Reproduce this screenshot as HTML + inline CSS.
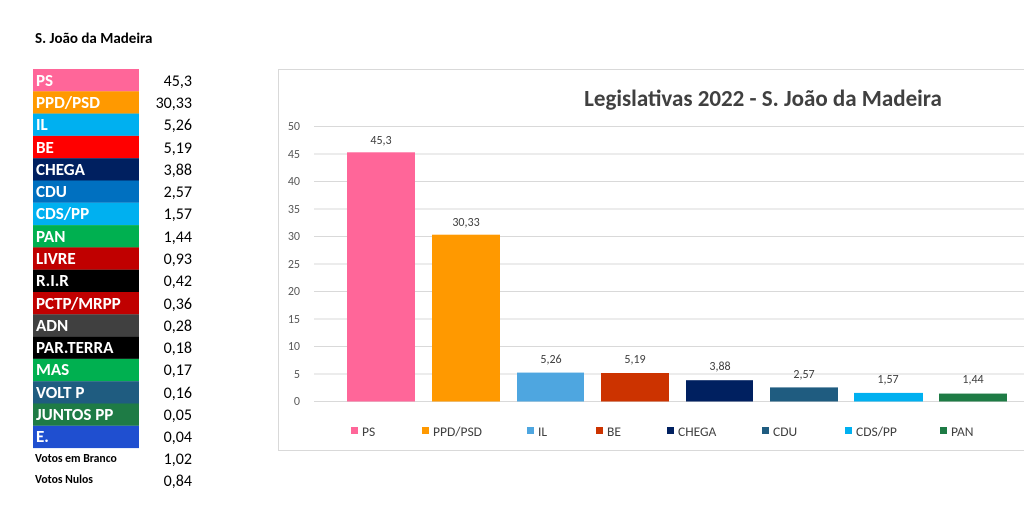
<!DOCTYPE html>
<html><head><meta charset="utf-8"><style>
body{margin:0;background:#fff;width:1024px;height:510px;overflow:hidden}
svg{display:block}
</style></head><body>
<svg width="1024" height="510" xmlns="http://www.w3.org/2000/svg" font-family="Calibri, Carlito, 'Liberation Sans', sans-serif">
<text x="35" y="43" font-size="15" font-weight="bold" fill="#000">S. João da Madeira</text>
<g font-size="17" font-weight="bold" fill="#fff">
<rect x="33" y="69" width="106" height="22.3" fill="#ff6699"/><text x="36" y="86">PS</text>
<rect x="33" y="91.3" width="106" height="22.3" fill="#ff9900"/><text x="36" y="108">PPD/PSD</text>
<rect x="33" y="113.6" width="106" height="22.3" fill="#00b0f0"/><text x="36" y="130">IL</text>
<rect x="33" y="135.9" width="106" height="22.3" fill="#ff0000"/><text x="36" y="153">BE</text>
<rect x="33" y="158.2" width="106" height="22.3" fill="#002060"/><text x="36" y="175">CHEGA</text>
<rect x="33" y="180.5" width="106" height="22.3" fill="#0070c0"/><text x="36" y="197">CDU</text>
<rect x="33" y="202.8" width="106" height="22.3" fill="#00b0f0"/><text x="36" y="219">CDS/PP</text>
<rect x="33" y="225.1" width="106" height="22.3" fill="#00b050"/><text x="36" y="242">PAN</text>
<rect x="33" y="247.4" width="106" height="22.3" fill="#c00000"/><text x="36" y="264">LIVRE</text>
<rect x="33" y="269.7" width="106" height="22.3" fill="#000"/><text x="36" y="286">R.I.R</text>
<rect x="33" y="292" width="106" height="22.3" fill="#c00000"/><text x="36" y="309">PCTP/MRPP</text>
<rect x="33" y="314.3" width="106" height="22.3" fill="#404040"/><text x="36" y="331">ADN</text>
<rect x="33" y="336.6" width="106" height="22.3" fill="#000"/><text x="36" y="353">PAR.TERRA</text>
<rect x="33" y="358.9" width="106" height="22.3" fill="#00b050"/><text x="36" y="375">MAS</text>
<rect x="33" y="381.2" width="106" height="22.3" fill="#1f5c80"/><text x="36" y="398">VOLT P</text>
<rect x="33" y="403.5" width="106" height="22.3" fill="#1e7b45"/><text x="36" y="420">JUNTOS PP</text>
<rect x="33" y="425.8" width="106" height="22.3" fill="#1f4fd0"/><text x="36" y="442">E.</text>
</g>
<g font-size="11.7" font-weight="bold" fill="#000">
<text x="35" y="462">Votos em Branco</text><text x="35" y="483">Votos Nulos</text>
</g>
<g font-size="16" fill="#000" text-anchor="end">
<text x="192" y="86">45,3</text><text x="192" y="108">30,33</text><text x="192" y="130">5,26</text>
<text x="192" y="153">5,19</text><text x="192" y="175">3,88</text><text x="192" y="197">2,57</text>
<text x="192" y="219">1,57</text><text x="192" y="242">1,44</text><text x="192" y="264">0,93</text>
<text x="192" y="286">0,42</text><text x="192" y="309">0,36</text><text x="192" y="331">0,28</text>
<text x="192" y="353">0,18</text><text x="192" y="375">0,17</text><text x="192" y="398">0,16</text>
<text x="192" y="420">0,05</text><text x="192" y="442">0,04</text><text x="192" y="464">1,02</text>
<text x="192" y="486">0,84</text>
</g>
<rect x="278.5" y="69.5" width="750" height="381" fill="#fff" stroke="#d9d9d9"/>
<text x="763" y="106" font-size="23" font-weight="bold" fill="#404040" text-anchor="middle">Legislativas 2022 - S. João da Madeira</text>
<g stroke="#d9d9d9" stroke-width="1">
<line x1="314" x2="1024" y1="126.5" y2="126.5"/><line x1="314" x2="1024" y1="154" y2="154"/>
<line x1="314" x2="1024" y1="181.5" y2="181.5"/><line x1="314" x2="1024" y1="209" y2="209"/>
<line x1="314" x2="1024" y1="236.5" y2="236.5"/><line x1="314" x2="1024" y1="264" y2="264"/>
<line x1="314" x2="1024" y1="291.5" y2="291.5"/><line x1="314" x2="1024" y1="319" y2="319"/>
<line x1="314" x2="1024" y1="346.5" y2="346.5"/><line x1="314" x2="1024" y1="374" y2="374"/>
<line x1="314" x2="1024" y1="401.5" y2="401.5"/>
</g>
<g font-size="12" fill="#595959" text-anchor="end">
<text x="300" y="130">50</text><text x="300" y="158">45</text><text x="300" y="185">40</text>
<text x="300" y="213">35</text><text x="300" y="240">30</text><text x="300" y="268">25</text>
<text x="300" y="295">20</text><text x="300" y="323">15</text><text x="300" y="350">10</text>
<text x="300" y="378">5</text><text x="300" y="405">0</text>
</g>
<rect x="347" y="152.3" width="68" height="249.2" fill="#ff6699"/>
<rect x="432" y="234.7" width="68" height="166.8" fill="#ff9900"/>
<rect x="517" y="372.6" width="67" height="28.9" fill="#4ea6e0"/>
<rect x="601" y="373" width="68" height="28.5" fill="#cc3300"/>
<rect x="686" y="380.2" width="67" height="21.3" fill="#002060"/>
<rect x="770" y="387.4" width="68" height="14.1" fill="#1f5c80"/>
<rect x="854" y="392.9" width="69" height="8.6" fill="#00b0f0"/>
<rect x="939" y="393.6" width="68" height="7.9" fill="#1e7b45"/>
<g font-size="12" fill="#404040" text-anchor="middle">
<text x="381" y="144">45,3</text><text x="466" y="226">30,33</text><text x="551" y="363">5,26</text>
<text x="635" y="363">5,19</text><text x="720" y="370">3,88</text><text x="804" y="378">2,57</text>
<text x="888" y="383">1,57</text><text x="973" y="383">1,44</text>
</g>
<g font-size="13.5" fill="#404040">
<rect x="351" y="427" width="7" height="7" fill="#ff6699"/><text x="362" y="436">PS</text>
<rect x="422" y="427" width="7" height="7" fill="#ff9900"/><text x="433" y="436">PPD/PSD</text>
<rect x="527" y="427" width="7" height="7" fill="#4ea6e0"/><text x="538" y="436">IL</text>
<rect x="596" y="427" width="7" height="7" fill="#cc3300"/><text x="607" y="436">BE</text>
<rect x="667" y="427" width="7" height="7" fill="#002060"/><text x="678" y="436">CHEGA</text>
<rect x="762" y="427" width="7" height="7" fill="#1f5c80"/><text x="773" y="436">CDU</text>
<rect x="845" y="427" width="7" height="7" fill="#00b0f0"/><text x="856" y="436">CDS/PP</text>
<rect x="940" y="427" width="7" height="7" fill="#1e7b45"/><text x="951" y="436">PAN</text>
</g>
</svg>
</body></html>
